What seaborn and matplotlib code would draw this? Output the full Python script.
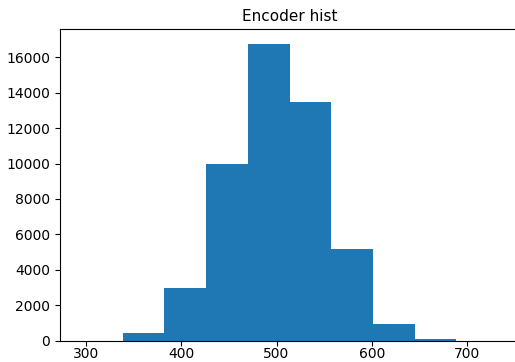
import numpy as np
import pandas as pd
import matplotlib
matplotlib.use("Agg")
import matplotlib.pyplot as plt
import seaborn as sns

# Histogram of encoder values: ten equal-width bins
bin_start = 294.6
bin_width = 43.8
n_bins = 10
counts = [0, 400, 2950, 10000, 16770, 13510, 5200, 960, 110, 0]

edges = bin_start + bin_width * np.arange(n_bins + 1)
centers = (edges[:-1] + edges[1:]) / 2
df = pd.DataFrame({"value": centers, "count": counts})

fig = plt.figure(figsize=(5.15, 3.62), dpi=100)
ax = fig.add_axes([60 / 515, (362 - 340.5) / 362, (519 - 60) / 515, (340.5 - 29) / 362])

sns.histplot(data=df, x="value", weights="count",
             binwidth=bin_width, binrange=(edges[0], edges[-1]), stat="count",
             color="#1f77b4", alpha=1.0, linewidth=0, ax=ax)

span = edges[-1] - edges[0]
ax.set_xlim(edges[0] - 0.05 * span, edges[-1] + 0.05 * span)
ax.set_ylim(0, max(counts) * 1.05)
ax.set_xticks([300, 400, 500, 600, 700])
ax.set_yticks(np.arange(0, 16001, 2000))
ax.tick_params(axis="x", pad=1.5)
ax.set_xlabel("")
ax.set_ylabel("")
ax.set_title("Encoder hist", fontsize=11)

fig.savefig("out.png", dpi=100)
